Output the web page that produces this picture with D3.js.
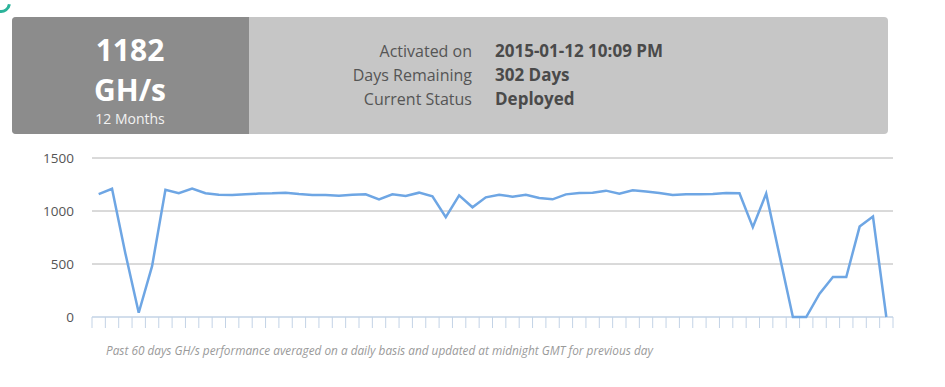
<!DOCTYPE html>
<html>
<head>
<meta charset="utf-8">
<script src="https://cdn.jsdelivr.net/npm/d3@7"></script>
<style>
  body { margin: 0; background: #fff; font-family: "Open Sans", sans-serif; }
</style>
</head>
<body>
<svg id="chart" width="945" height="387"></svg>
<script>
// header info
const hashRate = "1182";
const hashUnit = "GH/s";
const contractTerm = "12 Months";
const infoLabels = ["Activated on", "Days Remaining", "Current Status"];
const infoValues = ["2015-01-12 10:09 PM", "302 Days", "Deployed"];

// past 60 days GH/s
const dayValues = [
  1160, 1210, 600, 40, 480, 1200, 1167, 1211, 1167, 1154,
  1151, 1157, 1164, 1167, 1173, 1160, 1151, 1151, 1145, 1154,
  1157, 1110, 1157, 1142, 1173, 1138, 941, 1148, 1035, 1129,
  1154, 1135, 1154, 1123, 1110, 1157, 1170, 1173, 1192, 1164,
  1196, 1183, 1170, 1151, 1157, 1157, 1160, 1170, 1167, 847,
  1164, 580, 0, 0, 220, 377, 377, 853, 947, 0
];
const yTicks = [0, 500, 1000, 1500];
const caption = "Past 60 days GH/s performance averaged on a daily basis and updated at midnight GMT for previous day";

const svg = d3.select('#chart');

// little spinner remnant top-left
svg.append('path')
   .attr('d', d3.arc()({innerRadius: 7, outerRadius: 10, startAngle: Math.PI * 0.55, endAngle: Math.PI * 1.05}))
   .attr('transform', 'translate(1,3)')
   .attr('fill', '#2bb39a');

// header box
svg.append('rect')
   .attr('x', 12).attr('y', 17).attr('width', 876).attr('height', 117)
   .attr('rx', 4).attr('fill', '#c6c6c6');
svg.append('path')
   .attr('d', 'M16,17 H249 V134 H16 Q12,134 12,130 V21 Q12,17 16,17 Z')
   .attr('fill', '#8c8c8c');

const left = svg.append('g').attr('text-anchor', 'middle').attr('fill', '#fff');
left.append('text').attr('x', 130).attr('y', 61)
    .attr('font-size', 30).attr('font-weight', 'bold').text(hashRate);
left.append('text').attr('x', 130).attr('y', 101)
    .attr('font-size', 30).attr('font-weight', 'bold').text(hashUnit);
left.append('text').attr('x', 130).attr('y', 124)
    .attr('font-size', 14).attr('fill', '#f2f2f2').text(contractTerm);

const info = svg.append('g');
info.selectAll('text.lbl')
    .data(infoLabels)
    .enter()
    .append('text')
    .attr('class', 'lbl')
    .attr('x', 472)
    .attr('y', (d, i) => 57 + i * 24)
    .attr('text-anchor', 'end')
    .attr('font-size', 16)
    .attr('fill', '#555')
    .text(d => d);
info.selectAll('text.val')
    .data(infoValues)
    .enter()
    .append('text')
    .attr('class', 'val')
    .attr('x', 495)
    .attr('y', (d, i) => 57 + i * 24)
    .attr('font-size', 17)
    .attr('font-weight', 'bold')
    .attr('fill', '#4a4a4a')
    .text(d => d);

// chart
const xScale = d3.scaleBand()
                 .domain(d3.range(dayValues.length))
                 .range([92, 893]);
const yScale = d3.scaleLinear()
                 .domain([0, 1500])
                 .range([317, 158]);

svg.append('g')
   .selectAll('line')
   .data(yTicks.filter(d => d > 0))
   .enter()
   .append('line')
   .attr('x1', 92).attr('x2', 893)
   .attr('y1', d => yScale(d)).attr('y2', d => yScale(d))
   .attr('stroke', '#b4b4b4').attr('stroke-width', 1);

svg.append('g')
   .selectAll('text')
   .data(yTicks)
   .enter()
   .append('text')
   .attr('x', 74)
   .attr('y', d => yScale(d))
   .attr('dy', '0.35em')
   .attr('text-anchor', 'end')
   .attr('font-size', 13.5)
   .attr('fill', '#555')
   .text(d => d);

// bottom axis with a tick at every band edge
const axis = svg.append('g');
axis.append('line')
    .attr('x1', 92).attr('x2', 893)
    .attr('y1', yScale(0)).attr('y2', yScale(0))
    .attr('stroke', '#c3d3e6').attr('stroke-width', 1.5);
axis.selectAll('line.tick')
    .data(d3.range(dayValues.length + 1))
    .enter()
    .append('line')
    .attr('class', 'tick')
    .attr('x1', i => i < dayValues.length ? xScale(i) : xScale.range()[1])
    .attr('x2', i => i < dayValues.length ? xScale(i) : xScale.range()[1])
    .attr('y1', yScale(0)).attr('y2', yScale(0) + 11)
    .attr('stroke', '#c3d3e6').attr('stroke-width', 1);

const line = d3.line()
               .x((d, i) => xScale(i) + xScale.bandwidth() / 2)
               .y(d => yScale(d));

svg.append('path')
   .datum(dayValues)
   .attr('d', line)
   .attr('fill', 'none')
   .attr('stroke', '#6ea6e4')
   .attr('stroke-width', 2.5)
   .attr('stroke-linejoin', 'miter');

svg.append('text')
   .attr('x', 106).attr('y', 355)
   .attr('font-size', 11.8)
   .attr('font-style', 'italic')
   .attr('fill', '#9a9a9a')
   .text(caption);
</script>
</body>
</html>
